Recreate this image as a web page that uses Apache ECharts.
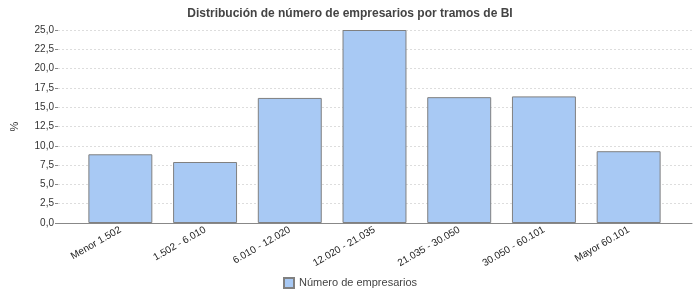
<!DOCTYPE html>
<html><head><meta charset="utf-8">
<script src="https://cdn.jsdelivr.net/npm/echarts@6/dist/echarts.min.js"></script>
<style>html,body{margin:0;padding:0;background:#fff}#c{width:700px;height:300px}</style>
</head><body><div id="c"></div>
<script>
var categories = ['Menor 1.502','1.502 - 6.010','6.010 - 12.020','12.020 - 21.035','21.035 - 30.050','30.050 - 60.101','Mayor 60.101'];
var values = [8.9, 7.9, 16.2, 25.0, 16.3, 16.4, 9.3];
var seriesName = 'Número de empresarios';
var titleText = 'Distribución de número de empresarios por tramos de BI';
var yMin = 0, yMax = 25, yStep = 2.5;

var chart = echarts.init(document.getElementById('c'));
var fmt = function(v){ return v.toFixed(1).replace('.', ','); };
var font = 'Liberation Sans, Arial, sans-serif';
chart.setOption({
  animation: false,
  textStyle: {fontFamily: font},
  title: {text: titleText, left: 'center', top: 3,
    textStyle: {fontSize: 12, fontWeight: 'bold', color: '#444', fontFamily: font}},
  legend: {bottom: 6, left: 'center', itemWidth: 10, itemHeight: 10, itemGap: 4,
    icon: 'rect', textStyle: {fontSize: 11, color: '#444', fontFamily: font},
    data: [seriesName]},
  grid: [
    {left: 58, right: 8, top: 30, bottom: 77, containLabel: false},
    {left: 78, right: 29, top: 30, bottom: 77, containLabel: false}
  ],
  xAxis: [
    {gridIndex: 0, type: 'value', min: 0, max: 1, show: true,
      axisLine: {show: true, lineStyle: {color: '#888'}}, axisTick: {show: false},
      axisLabel: {show: false}, splitLine: {show: false}},
    {gridIndex: 1, type: 'category', data: categories, boundaryGap: true,
      axisLine: {show: false}, axisTick: {show: false},
      axisLabel: {rotate: 30, fontSize: 10, color: '#222', margin: 6, interval: 0, fontFamily: font}}
  ],
  yAxis: [
    {gridIndex: 0, type: 'value', min: yMin, max: yMax, interval: yStep,
      name: '%', nameLocation: 'middle', nameGap: 38, nameRotate: 90,
      nameTextStyle: {fontSize: 11, color: '#333'},
      axisLine: {show: false}, axisTick: {show: true, length: 3, lineStyle: {color: '#888'}},
      axisLabel: {formatter: fmt, fontSize: 10, color: '#333', margin: 4},
      splitLine: {show: true, lineStyle: {color: '#ddd', type: [2, 2]}}},
    {gridIndex: 1, type: 'value', min: yMin, max: yMax, interval: yStep, show: false,
      splitLine: {show: false}}
  ],
  series: [{
    name: seriesName, type: 'bar', xAxisIndex: 1, yAxisIndex: 1,
    data: values, barCategoryGap: '24.5%',
    itemStyle: {color: '#a8c9f4', borderColor: '#808080', borderWidth: 1}
  }]
});
</script></body></html>
